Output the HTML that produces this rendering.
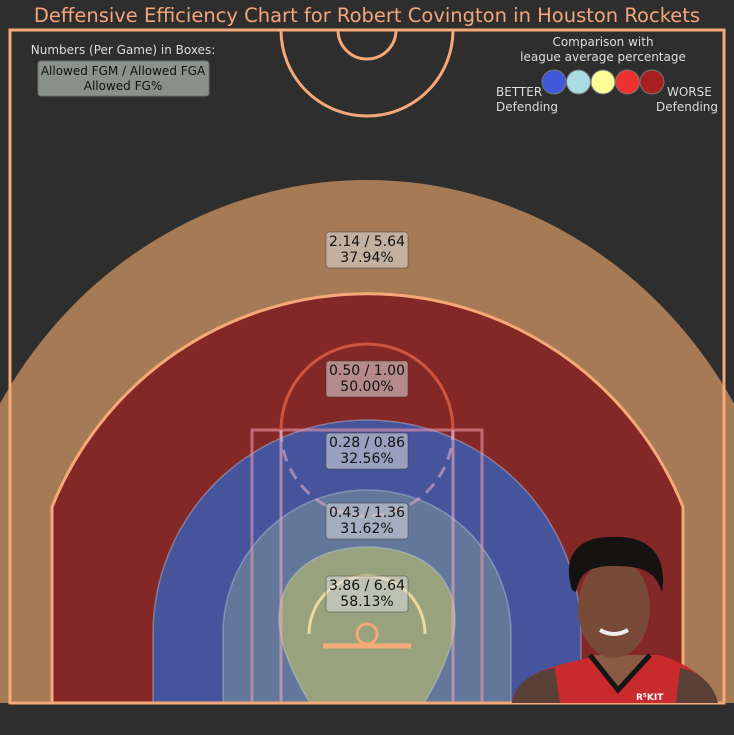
<!DOCTYPE html>
<html><head><meta charset="utf-8"><style>
html,body{margin:0;padding:0;background:#2f2e2e;}
svg{display:block;font-family:"DejaVu Sans","Liberation Sans",sans-serif;}
</style></head><body>
<svg id="chart" width="734" height="735" viewBox="0 0 734 735">
<rect width="734" height="735" fill="#2f2e2e"/>
<text x="367" y="22" text-anchor="middle" font-size="19.5" fill="#f5a57a">Deffensive Efficiency Chart for Robert Covington in Houston Rockets</text>
<defs>
<clipPath id="cl"><rect x="0" y="0" width="734" height="703"/></clipPath>
<clipPath id="ct"><rect x="0" y="30" width="734" height="680"/></clipPath>
</defs>
<g id="zones" clip-path="url(#cl)"></g>
<g id="lines" fill="none">
  <rect x="252" y="430" width="230" height="273" stroke="rgba(235,150,170,0.6)" stroke-width="3"/>
  <line x1="281" y1="430" x2="281" y2="703" stroke="rgba(235,170,190,0.6)" stroke-width="3"/>
  <line x1="453" y1="430" x2="453" y2="703" stroke="rgba(235,170,190,0.6)" stroke-width="3"/>
  <path d="M281 430 A86 86 0 0 1 453 430" stroke="#d0553f" stroke-width="3"/>
  <path d="M281 430 A86 86 0 0 0 453 430" stroke="rgba(220,170,200,0.6)" stroke-width="3" stroke-dasharray="12,8"/>
  <path d="M309 634 A58 58 0 0 1 425 634" stroke="#ead9a0" stroke-width="3"/>
  <circle cx="367" cy="634" r="10" stroke="#f5a878" stroke-width="3"/>
  <line x1="323" y1="646" x2="411" y2="646" stroke="#f5a878" stroke-width="5"/>
  <path d="M52 703 L52 507 A340 340 0 0 1 683 507 L683 703" stroke="#f5a878" stroke-width="3"/>
  <g clip-path="url(#ct)">
  <circle cx="367" cy="30" r="86" stroke="#f5a878" stroke-width="3"/>
  <circle cx="367" cy="30" r="29" stroke="#f5a878" stroke-width="3"/>
  </g>
  <rect x="10" y="30" width="714" height="673" stroke="#f5a878" stroke-width="3"/>
</g>
<g id="labels"></g>
<g>
  <path d="M512 703 C515 680 540 668 580 660 L600 655 L660 655 C690 665 712 680 718 703 Z" fill="#c92a2e"/>
  <path d="M512 703 C515 685 530 672 555 668 L560 703 Z" fill="#5a4037"/>
  <path d="M718 703 C714 685 700 672 680 668 L676 703 Z" fill="#5a4037"/>
  <path d="M590 655 L618 688 L648 655 Z" fill="#8a5a44"/>
  <path d="M590 655 L618 690 L650 655" stroke="#151515" stroke-width="5" fill="none"/>
  <ellipse cx="614" cy="608" rx="36" ry="50" fill="#7a4a38"/>
  <path d="M572 590 C560 550 585 536 612 537 C648 535 668 555 662 592 C655 570 640 566 614 566 C590 566 580 572 576 592 Z" fill="#151212"/>
  <path d="M600 630 Q614 638 628 630" stroke="#eee" stroke-width="4" fill="none"/>
  <text x="636" y="700" font-size="9" fill="#fff" font-weight="bold">R⁵KIT</text>
</g>
<g>
  <text x="123" y="54" text-anchor="middle" font-size="12" fill="#dddddd">Numbers (Per Game) in Boxes:</text>
  <rect x="38" y="61" width="171" height="35" rx="3" fill="#8a918b" stroke="#6c716d"/>
  <text x="123" y="75" text-anchor="middle" font-size="12" fill="#111">Allowed FGM / Allowed FGA</text>
  <text x="123" y="90" text-anchor="middle" font-size="12" fill="#111">Allowed FG%</text>
</g>
<g id="colorlegend">
  <text x="603" y="46" text-anchor="middle" font-size="12" fill="#dddddd">Comparison with</text>
  <text x="603" y="61" text-anchor="middle" font-size="12" fill="#dddddd">league average percentage</text>
  <text x="496" y="96" font-size="12" fill="#dddddd">BETTER</text>
  <text x="496" y="111" font-size="12" fill="#dddddd">Defending</text>
  <text x="667" y="96" font-size="12" fill="#dddddd">WORSE</text>
  <text x="656" y="111" font-size="12" fill="#dddddd">Defending</text>
</g>
</svg>
<script>
const zoneNames = ["long-range","mid-range","paint-extended","close-range","restricted"];
const zoneFGM = [2.14, 0.50, 0.28, 0.43, 3.86];
const zoneFGA = [5.64, 1.00, 0.86, 1.36, 6.64];
const zonePct = [37.94, 50.00, 32.56, 31.62, 58.13];
const zoneColors = ["#a67a55","#842727","#46549b","#62779a","#98a37e"];
const legendColors = ["#4158d8","#abdce4","#fdfd98","#ee3232","#a81f1f"];
const NS="http://www.w3.org/2000/svg";
const zg=document.getElementById('zones'), lg=document.getElementById('labels'), cg=document.getElementById('colorlegend');
const shapes=[
 "M-59 634 A426 454 0 0 1 793 634 L793 703 L-59 703 Z",
 "M52 703 L52 507 A340 340 0 0 1 683 507 L683 703 Z",
 "M153 703 L153 634 A214 214 0 0 1 581 634 L581 703 Z",
 "M223 703 L223 634 A144 144 0 0 1 511 634 L511 703 Z",
 "M310 703 C290 670 279 640 279 620 C279 570 320 547 367 547 C414 547 455 570 455 620 C455 640 444 670 424 703 Z"];
const labelY=[248,377,449,519,592];
zoneNames.forEach((n,i)=>{
  const p=document.createElementNS(NS,'path');
  p.setAttribute('d',shapes[i]);p.setAttribute('fill',zoneColors[i]);
  if(i>=2){p.setAttribute('stroke','rgba(200,210,230,0.4)');p.setAttribute('stroke-width','1.5');}
  
  
  zg.appendChild(p);
  const g=document.createElementNS(NS,'g');
  
  
  const r=document.createElementNS(NS,'rect');
  r.setAttribute('x',326);r.setAttribute('y',labelY[i]-16);r.setAttribute('width',82);r.setAttribute('height',36);r.setAttribute('rx',3);
  r.setAttribute('fill','rgba(220,220,220,0.55)');r.setAttribute('stroke','rgba(60,60,60,0.5)');
  g.appendChild(r);
  const t1=document.createElementNS(NS,'text');
  t1.setAttribute('x',367);t1.setAttribute('y',labelY[i]-2);t1.setAttribute('text-anchor','middle');t1.setAttribute('font-size','14');t1.setAttribute('fill','#111');
  t1.textContent=zoneFGM[i].toFixed(2)+' / '+zoneFGA[i].toFixed(2);
  g.appendChild(t1);
  const t2=document.createElementNS(NS,'text');
  t2.setAttribute('x',367);t2.setAttribute('y',labelY[i]+14);t2.setAttribute('text-anchor','middle');t2.setAttribute('font-size','14');t2.setAttribute('fill','#111');
  t2.textContent=zonePct[i].toFixed(2)+'%';
  g.appendChild(t2);
  lg.appendChild(g);
});
legendColors.forEach((c,i)=>{
  const ci=document.createElementNS(NS,'circle');
  ci.setAttribute('cx',554+i*24.5);ci.setAttribute('cy',82);ci.setAttribute('r',12);ci.setAttribute('fill',c);ci.setAttribute('stroke','#777');
  
  
  cg.appendChild(ci);
});
</script>
</body></html>
